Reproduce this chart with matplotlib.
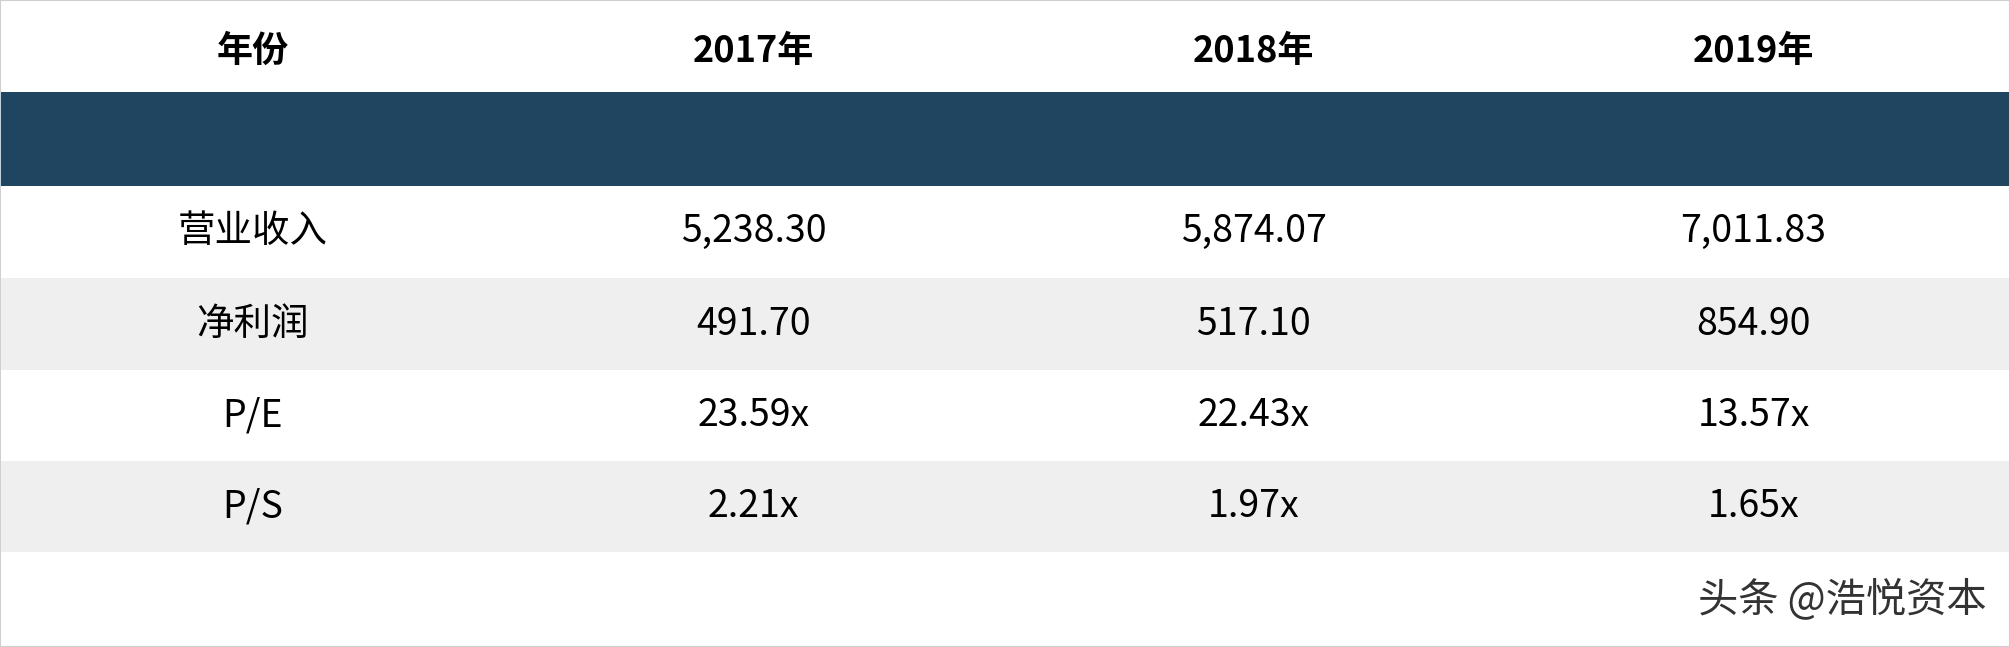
import matplotlib
matplotlib.use("Agg")
import matplotlib.pyplot as plt
from matplotlib.patches import Rectangle

plt.rcParams['font.family'] = ['Noto Sans CJK SC', 'DejaVu Sans']

headers = ["年份", "2017年", "2018年", "2019年"]
row_labels = ["营业收入", "净利润", "P/E", "P/S"]
rev = ["5,238.30", "5,874.07", "7,011.83"]
profit = ["491.70", "517.10", "854.90"]
pe = ["23.59x", "22.43x", "13.57x"]
ps = ["2.21x", "1.97x", "1.65x"]
rows = [rev, profit, pe, ps]

fig = plt.figure(figsize=(20.10, 6.47), dpi=100)
ax = fig.add_axes([0, 0, 1, 1])
ax.set_xlim(0, 1568); ax.set_ylim(505, 0); ax.axis('off')

ax.add_patch(Rectangle((0, 0), 1568, 505, facecolor='white', edgecolor='#CFCFCF', lw=1.5))
ax.add_patch(Rectangle((1, 72), 1566, 73, facecolor='#1F4560', edgecolor='none'))
bounds = [145, 217, 289, 360, 431]
fills = ['white', '#EFEFEF', 'white', '#EFEFEF']
xs = [197, 588, 978, 1368]
for i in range(4):
    ax.add_patch(Rectangle((1, bounds[i]), 1566, bounds[i+1]-bounds[i], facecolor=fills[i], edgecolor='none'))
for x, h in zip(xs, headers):
    ax.text(x, 40, h, ha='center', va='center', fontsize=26, fontweight='bold', color='black')
for i, (lab, vals) in enumerate(zip(row_labels, rows)):
    y = (bounds[i] + bounds[i+1]) / 2
    ax.text(xs[0], y, lab, ha='center', va='center', fontsize=27, color='black')
    for x, v in zip(xs[1:], vals):
        ax.text(x, y, v, ha='center', va='center', fontsize=27, color='black')
ax.text(1550, 468, "头条 @浩悦资本", ha='right', va='center', fontsize=29, color='#333333')
fig.savefig("out.png", dpi=100)
